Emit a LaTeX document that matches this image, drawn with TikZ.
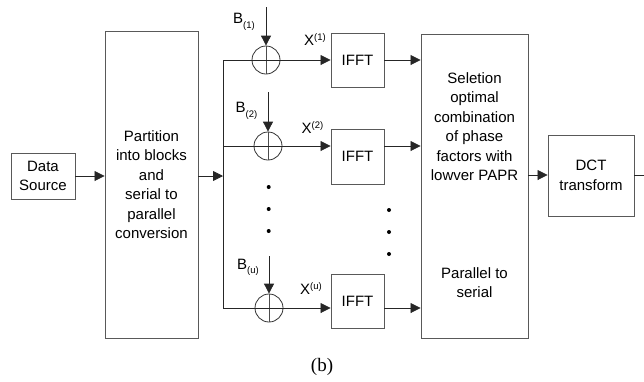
\documentclass[tikz,border=0pt]{standalone}
\usepackage{fontspec}
\setmainfont{Liberation Sans}
\newfontfamily\capfont{Liberation Serif}
\usetikzlibrary{arrows.meta}
\begin{document}
\begin{tikzpicture}[x=1pt,y=-1pt,
  box/.style={draw=black!65, line width=0.9pt, font=\fontsize{15}{19.5}\selectfont, align=center, inner sep=0pt},
  txt/.style={font=\fontsize{15}{19.5}\selectfont, align=center, inner sep=0pt},
  wire/.style={draw=black!85, line width=0.8pt},
  arr/.style={wire,-{Triangle[length=10pt,width=10pt]}},
  sum/.style={circle, draw=black!80, line width=0.8pt, minimum size=28pt, inner sep=0pt},
  dotm/.style={circle, fill=black, minimum size=4pt, inner sep=0pt},
  lab/.style={font=\fontsize{15}{15}\selectfont, inner sep=0pt, anchor=base west},
 ]
\useasboundingbox (0,0) rectangle (644,381);
\clip (0,0) rectangle (644,381);
\newcommand{\mysub}[1]{\raisebox{-4.5pt}{\fontsize{9.5}{9.5}\selectfont(#1)}}
\newcommand{\mysup}[1]{\raisebox{5pt}{\fontsize{9.5}{9.5}\selectfont(#1)}}

% boxes
\node[box, minimum width=64pt, minimum height=46pt] (ds) at (43,176) {Data\\Source};
\node[box, minimum width=93pt, minimum height=307pt] (part) at (151.5,184.5) {Partition\\into blocks\\and\\serial to\\parallel\\conversion};
\node[box, minimum width=53pt, minimum height=54pt] (f1) at (357.5,60) {IFFT};
\node[box, minimum width=53pt, minimum height=55pt] (f2) at (357.5,156.5) {IFFT};
\node[box, minimum width=53pt, minimum height=54pt] (fu) at (357.5,301) {IFFT};
\node[box, minimum width=107pt, minimum height=304pt] (big) at (474.5,186) {};
\node[txt] (selt) at (474.5,126.5) {Seletion\\optimal\\combination\\of phase\\factors with\\lowver PAPR};
\node[txt] (pts) at (474.5,282.5) {Parallel to\\serial};
\node[box, minimum width=86pt, minimum height=81pt] (dct) at (591,175.5) {DCT\\transform};

% summing nodes
\node[sum] (s1) at (266,60) {};
\node[sum] (s2) at (268,146) {};
\node[sum] (su) at (269,308) {};
\foreach \s in {s1,s2,su}{
  \draw[wire, draw=black!70] (\s.north) -- (\s.south);
}

% bus
\coordinate (bt) at (223,60);
\coordinate (bm) at (223,176);
\coordinate (b2) at (223,146);
\coordinate (bb) at (223,308);
\draw[arr] (ds.east |- bm) -- (part.west |- bm);
\draw[arr] (part.east |- bm) -- (bm);
\draw[wire] (s1.west) -- (bt) -- (bb) -- (su.west);
\draw[wire] (b2) -- (s2.west);
\draw[wire] (s1.west) -- (s1.east);
\draw[wire] (s2.west) -- (s2.east);
\draw[wire] (su.west) -- (su.east);

% to IFFT
\draw[arr] (s1.east) -- (f1.west |- s1);
\draw[arr] (s2.east) -- (f2.west |- s2);
\draw[arr] (su.east) -- (fu.west |- su);
% to big box
\draw[arr] (f1.east |- s1) -- (big.west |- s1);
\draw[arr] (f2.east |- s2) -- (big.west |- s2);
\draw[arr] (fu.east |- su) -- (big.west |- su);
% to DCT and out
\coordinate (dy) at (540,175);
\draw[arr] (big.east |- dy) -- (dct.west |- dy);
\coordinate (outc) at (654,175);
\draw[arr] (dct.east |- dy) -- (outc);

% B inputs
\coordinate (t1) at (266,7);
\coordinate (t2) at (268,92);
\coordinate (tu) at (269,256);
\draw[arr] (t1) -- (s1.north);
\draw[arr] (t2) -- (s2.north);
\draw[arr] (tu) -- (su.north);

% labels
\node[lab] (lb1) at (233,23.5) {B\mysub{1}};
\node[lab] (lb2) at (235.5,112.7) {B\mysub{2}};
\node[lab] (lbu) at (237,269) {B\mysub{u}};
\node[lab] (lx1) at (304,45.5) {X\mysup{1}};
\node[lab] (lx2) at (301.5,133.5) {X\mysup{2}};
\node[lab] (lxu) at (300,294.5) {X\mysup{u}};

% dots
\node[dotm] (d1) at (268.7,187) {};
\node[dotm] (d2) at (268.7,209) {};
\node[dotm] (d3) at (268.7,231) {};
\node[dotm] (d4) at (389,210) {};
\node[dotm] (d5) at (389,232) {};
\node[dotm] (d6) at (389,254) {};

% caption
\node[font=\capfont\fontsize{19}{19}\selectfont, inner sep=0pt] (cap) at (322,367) {(b)};
\end{tikzpicture}
\end{document}
